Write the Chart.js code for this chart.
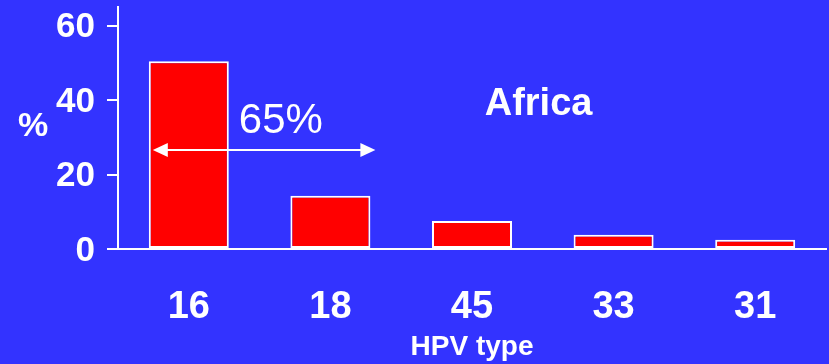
<!DOCTYPE html>
<html>
<head>
<meta charset="utf-8">
<script src="https://cdn.jsdelivr.net/npm/chart.js@4/dist/chart.umd.min.js"></script>
<style>
  body { margin: 0; background: #3333ff; }
  canvas { display: block; }
</style>
</head>
<body>
<canvas id="hpvChart" width="829" height="364"></canvas>
<script>
const tipos = ["16", "18", "45", "33", "31"];
const percentuais = [50.4, 14.3, 7.5, 3.8, 2.5];
const yTicks = [0, 20, 40, 60];

const FONTE = "'Liberation Sans', Arial, sans-serif";

// textos e seta desenhados por cima do grafico
const anotacoes = {
  id: "anotacoes",
  afterDraw(chart) {
    const ctx = chart.ctx;
    const x = chart.scales.x;
    const y = chart.scales.y;
    ctx.save();
    ctx.fillStyle = "#ffffff";
    ctx.strokeStyle = "#ffffff";

    // seta dupla 65%
    const ay = y.getPixelForValue(26.6);
    const x0 = x.getPixelForValue(0) - 36;
    const x1 = x.getPixelForValue(1) + 45;
    ctx.lineWidth = 2;
    ctx.beginPath();
    ctx.moveTo(x0 + 10, ay);
    ctx.lineTo(x1 - 10, ay);
    ctx.stroke();
    ctx.beginPath();
    ctx.moveTo(x0, ay);
    ctx.lineTo(x0 + 15, ay - 7);
    ctx.lineTo(x0 + 15, ay + 7);
    ctx.closePath();
    ctx.fill();
    ctx.beginPath();
    ctx.moveTo(x1, ay);
    ctx.lineTo(x1 - 15, ay - 7);
    ctx.lineTo(x1 - 15, ay + 7);
    ctx.closePath();
    ctx.fill();

    ctx.textAlign = "center";
    ctx.textBaseline = "middle";
    ctx.font = "42px " + FONTE;
    ctx.fillText("65%", x.getPixelForValue(0.65), y.getPixelForValue(34.4));

    ctx.font = "bold 38px " + FONTE;
    ctx.fillText("Africa", x.getPixelForValue(2.47), y.getPixelForValue(38.9));

    ctx.font = "bold 34px " + FONTE;
    ctx.fillText("%", 33, y.getPixelForValue(33));
    ctx.restore();
  }
};

new Chart(document.getElementById("hpvChart"), {
  type: "bar",
  data: {
    labels: tipos,
    datasets: [{
      data: percentuais,
      backgroundColor: "#ff0000",
      borderColor: "#ffffff",
      borderWidth: 2,
      borderSkipped: false,
      barPercentage: 0.565,
      categoryPercentage: 1
    }]
  },
  options: {
    responsive: false,
    animation: false,
    layout: { padding: { top: 7, right: 3, left: 0, bottom: 0 } },
    plugins: {
      legend: { display: false },
      tooltip: { enabled: false }
    },
    scales: {
      x: {
        grid: { drawOnChartArea: false, drawTicks: false },
        border: { color: "#ffffff", width: 2 },
        ticks: {
          color: "#ffffff",
          padding: 36,
          font: { family: FONTE, size: 38, weight: "bold" }
        },
        title: {
          display: true,
          text: "HPV type",
          color: "#ffffff",
          padding: { top: 0, bottom: 0 },
          font: { family: FONTE, size: 28, weight: "bold" }
        },
        afterFit(scale) { scale.height = 115; }
      },
      y: {
        min: 0,
        max: 65,
        grid: { drawOnChartArea: false, drawTicks: true, tickLength: 11, color: "#ffffff", lineWidth: 2 },
        border: { color: "#ffffff", width: 2 },
        ticks: {
          stepSize: 20,
          color: "#ffffff",
          padding: 12,
          labelOffset: 2,
          font: { family: FONTE, size: 35, weight: "bold" }
        },
        afterBuildTicks(scale) {
          scale.ticks = yTicks.map((v) => ({ value: v }));
        },
        afterFit(scale) {
          scale.width = 118;
          scale.paddingTop = 0;
          scale.paddingBottom = 0;
        }
      }
    }
  },
  plugins: [anotacoes]
});
</script>
</body>
</html>
